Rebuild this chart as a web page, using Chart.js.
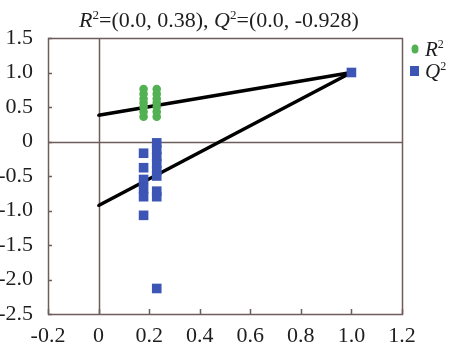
<!DOCTYPE html>
<html>
<head>
<meta charset="utf-8">
<script src="https://cdn.jsdelivr.net/npm/chart.js@4.4.0/dist/chart.umd.min.js"></script>
<style>
html,body{margin:0;padding:0;background:#fff;}
#wrap{width:451px;height:349px;position:relative;}
</style>
</head>
<body>
<div id="wrap"><canvas id="c" width="451" height="349"></canvas></div>
<script>
// ---- data ----
const r2X = [0.178, 0.178, 0.178, 0.178, 0.178, 0.178, 0.178, 0.23, 0.23, 0.23, 0.23, 0.23, 0.23, 0.23, 1.0];
const r2Y = [0.36, 0.43, 0.50, 0.56, 0.62, 0.69, 0.76, 0.36, 0.43, 0.50, 0.56, 0.62, 0.69, 0.76, 1.0];
const q2X = [0.178, 0.178, 0.178, 0.178, 0.178, 0.178, 0.23, 0.23, 0.23, 0.23, 0.23, 0.23, 0.23, 0.23, 0.23, 1.0];
const q2Y = [-0.17, -0.38, -0.55, -0.68, -0.80, -1.07, -0.02, -0.12, -0.22, -0.32, -0.42, -0.50, -0.72, -0.80, -2.13, 1.0];
const r2Intercept = 0.38;
const q2Intercept = -0.928;
const xTickValues = [-0.2, 0, 0.2, 0.4, 0.6, 0.8, 1.0, 1.2];
const xTickLabels = ['-0.2', '0', '0.2', '0.4', '0.6', '0.8', '1.0', '1.2'];
const yTickValues = [-2.5, -2.0, -1.5, -1.0, -0.5, 0, 0.5, 1.0, 1.5];
const yTickLabels = ['-2.5', '-2.0', '-1.5', '-1.0', '-0.5', '0', '0.5', '1.0', '1.5'];
const seriesNames = ['R', 'Q'];

const GREEN = '#52b152';
const BLUE = '#3d56b5';
const AXIS = '#6e5d5a';
const TEXT = '#1e1e1e';
const FONT = '"Liberation Serif", "DejaVu Serif", serif';

function lbl(values, labels, v) {
  for (let i = 0; i < values.length; i++) if (Math.abs(values[i] - v) < 1e-6) return labels[i];
  return '';
}

const decor = {
  id: 'decor',
  beforeDatasetsDraw(chart) {
    const {ctx, chartArea: a, scales: {x, y}} = chart;
    ctx.save();
    ctx.strokeStyle = AXIS;
    ctx.lineWidth = 1.5;
    const x0 = Math.round(x.getPixelForValue(0)) + 0.5;
    const y0 = Math.round(y.getPixelForValue(0)) + 0.5;
    ctx.beginPath();
    ctx.moveTo(x0, a.top); ctx.lineTo(x0, a.bottom);
    ctx.moveTo(a.left, y0); ctx.lineTo(a.right, y0);
    ctx.stroke();
    ctx.restore();
  },
  afterDraw(chart) {
    const {ctx, chartArea: a, scales: {x, y}} = chart;
    ctx.save();
    ctx.strokeStyle = AXIS;
    ctx.lineWidth = 1.5;
    ctx.strokeRect(Math.round(a.left) + 0.5, Math.round(a.top) + 0.5, Math.round(a.right - a.left), Math.round(a.bottom - a.top));
    ctx.beginPath();
    yTickValues.forEach(v => {
      const py = Math.round(y.getPixelForValue(v)) + 0.5;
      ctx.moveTo(a.left, py); ctx.lineTo(a.left + 4, py);
    });
    xTickValues.forEach(v => {
      const px = Math.round(x.getPixelForValue(v)) + 0.5;
      ctx.moveTo(px, a.bottom); ctx.lineTo(px, a.bottom - 5);
    });
    ctx.stroke();

    // title (rich text)
    const segs = [
      ['R', 'italic', 22, 0], ['2', 'normal', 13, -8], ['=(0.0, ' + r2Intercept.toFixed(2) + '), ', 'normal', 22, 0],
      ['Q', 'italic', 22, 0], ['2', 'normal', 13, -8], ['=(0.0, ' + q2Intercept.toFixed(3) + ')', 'normal', 22, 0]
    ];
    let total = 0;
    segs.forEach(s => { ctx.font = s[1] + ' ' + s[2] + 'px ' + FONT; total += ctx.measureText(s[0]).width; });
    let tx = 219 - total / 2;
    const ty = 27;
    ctx.fillStyle = TEXT;
    ctx.textBaseline = 'alphabetic';
    ctx.textAlign = 'left';
    segs.forEach(s => {
      ctx.font = s[1] + ' ' + s[2] + 'px ' + FONT;
      ctx.fillText(s[0], tx, ty + s[3]);
      tx += ctx.measureText(s[0]).width;
    });

    // legend
    const items = [[seriesNames[0], GREEN, 'circle', 49], [seriesNames[1], BLUE, 'rect', 71]];
    items.forEach(it => {
      ctx.fillStyle = it[1];
      if (it[2] === 'circle') {
        ctx.beginPath(); ctx.ellipse(415, it[3], 3.5, 4.5, 0, 0, Math.PI * 2); ctx.fill();
      } else {
        ctx.fillRect(410, it[3] - 5, 9, 10);
      }
      ctx.fillStyle = TEXT;
      ctx.font = 'italic 21px ' + FONT;
      ctx.fillText(it[0], 425, it[3] + 7);
      const w = ctx.measureText(it[0]).width;
      ctx.font = 'normal 12px ' + FONT;
      ctx.fillText('2', 425 + w, it[3] - 1);
    });
    ctx.restore();
  }
};

const r2Points = r2X.map((v, i) => ({x: v, y: r2Y[i]}));
const q2Points = q2X.map((v, i) => ({x: v, y: q2Y[i]}));

new Chart(document.getElementById('c'), {
  type: 'scatter',
  data: {
    datasets: [
      {type: 'line', data: [{x: 0, y: r2Intercept}, {x: 1, y: 1}], borderColor: '#000', borderWidth: 3.5, pointRadius: 1.5, pointBackgroundColor: '#000', pointBorderWidth: 0, order: 3},
      {type: 'line', data: [{x: 0, y: q2Intercept}, {x: 1, y: 1}], borderColor: '#000', borderWidth: 3.5, pointRadius: 1.5, pointBackgroundColor: '#000', pointBorderWidth: 0, order: 3},
      {label: 'R2', data: r2Points, backgroundColor: GREEN, borderWidth: 0, pointStyle: 'circle', pointRadius: 4.3, order: 2},
      {label: 'Q2', data: q2Points, backgroundColor: BLUE, borderWidth: 0, pointStyle: 'rect', pointRadius: 6.8, order: 1}
    ]
  },
  options: {
    responsive: false,
    animation: false,
    devicePixelRatio: 1,
    layout: {padding: {top: 38, right: 49, left: 0, bottom: 0}},
    plugins: {legend: {display: false}, tooltip: {enabled: false}, title: {display: false}},
    scales: {
      x: {
        type: 'linear', min: -0.2, max: 1.2,
        afterBuildTicks(s) { s.ticks = xTickValues.map(v => ({value: v})); },
        afterFit(s) { s.height = 35; },
        grid: {display: false, drawTicks: false},
        border: {display: false},
        ticks: {padding: 9, color: TEXT, font: {family: FONT, size: 22}, maxRotation: 0, autoSkip: false,
          callback: v => lbl(xTickValues, xTickLabels, v)}
      },
      y: {
        type: 'linear', min: -2.5, max: 1.5,
        afterBuildTicks(s) { s.ticks = yTickValues.map(v => ({value: v})); },
        afterFit(s) { s.width = 48; },
        grid: {display: false, drawTicks: false},
        border: {display: false},
        ticks: {padding: 15, color: TEXT, font: {family: FONT, size: 22}, autoSkip: false,
          callback: v => lbl(yTickValues, yTickLabels, v)}
      }
    }
  },
  plugins: [decor]
});
</script>
</body>
</html>
